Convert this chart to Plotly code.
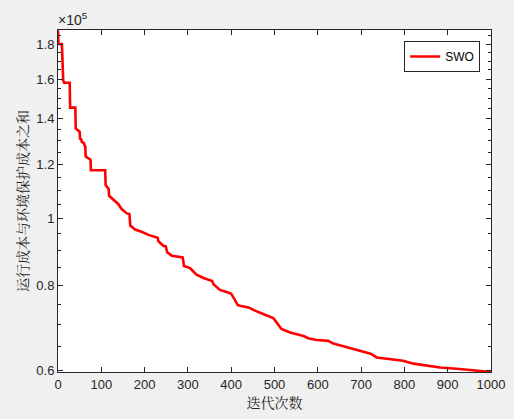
import plotly.graph_objects as go
import math

# iteration breakpoints and best objective values (in units of 1e5)
iterations = [0, 1, 9, 10, 11, 12, 14, 27, 28, 40, 41, 46, 50, 51, 54, 55, 60, 61, 63, 64,
              70, 75, 76, 109, 110, 114, 117, 118, 128, 139, 147, 159, 165, 167, 178, 193,
              209, 224, 230, 232, 243, 249, 252, 263, 282, 288, 291, 305, 312, 320, 336,
              351, 356, 359, 374, 393, 400, 415, 420, 440, 455, 478, 497, 500, 516, 536,
              567, 578, 597, 624, 636, 659, 690, 717, 722, 736, 767, 797, 821, 852, 882,
              928, 959, 1000]
values_e5 = [1.885, 1.80, 1.80, 1.717, 1.717, 1.594, 1.58, 1.58, 1.453, 1.453, 1.354,
             1.345, 1.34, 1.309, 1.305, 1.295, 1.29, 1.28, 1.275, 1.233, 1.224, 1.22,
             1.177, 1.177, 1.12, 1.111, 1.105, 1.08, 1.065, 1.051, 1.033, 1.018, 1.016,
             0.977, 0.964, 0.957, 0.947, 0.941, 0.938, 0.927, 0.913, 0.911, 0.893, 0.883,
             0.880, 0.878, 0.853, 0.847, 0.838, 0.828, 0.819, 0.813, 0.811, 0.802, 0.787,
             0.780, 0.777, 0.748, 0.746, 0.742, 0.734, 0.724, 0.716, 0.712, 0.690, 0.682,
             0.674, 0.669, 0.665, 0.663, 0.657, 0.651, 0.643, 0.637, 0.635, 0.627, 0.624,
             0.620, 0.614, 0.610, 0.606, 0.603, 0.600, 0.597]
values = [v * 1e5 for v in values_e5]

series_name = "SWO"
x_ticks = [0, 100, 200, 300, 400, 500, 600, 700, 800, 900, 1000]
y_tick_vals = [60000, 80000, 100000, 120000, 140000, 160000, 180000]
y_tick_text = ["0.6", "0.8", "1", "1.2", "1.4", "1.6", "1.8"]
y_minor_vals = [65000, 70000, 75000, 85000, 90000, 95000, 105000, 110000, 115000,
                125000, 130000, 135000, 145000, 150000, 155000, 165000, 170000, 175000,
                185000]
x_title = "迭代次数"
y_title = "运行成本与环境保护成本之和"

axis_color = "#262626"
tick_font = dict(family="Liberation Sans, Arial", size=13, color=axis_color)
cjk_font = dict(family="Noto Serif CJK SC, Noto Sans CJK SC", size=14, color=axis_color)

fig = go.Figure()
fig.add_trace(go.Scatter(
    x=iterations, y=values, mode="lines", name=series_name,
    line=dict(color="#ff0000", width=2.6),
))

fig.update_layout(
    width=514, height=419,
    margin=dict(l=58, r=23, t=30, b=47),
    paper_bgcolor="#f0f0f0", plot_bgcolor="#ffffff",
    showlegend=True,
    legend=dict(x=0.975, y=0.968, xanchor="right", yanchor="top",
                bgcolor="#ffffff", bordercolor="#262626", borderwidth=1,
                font=dict(family="Liberation Sans, Arial", size=12, color="#000000"),
                itemwidth=30, tracegroupgap=0),
    annotations=[dict(text="×10<sup>5</sup>", x=0, y=1, xref="paper", yref="paper",
                      xanchor="left", yanchor="bottom", showarrow=False,
                      font=dict(family="Liberation Sans, Arial", size=14, color=axis_color),
                      xshift=-2, yshift=0)],
)

fig.update_xaxes(
    range=[0, 1000], tickvals=x_ticks, ticks="inside", ticklen=5, tickcolor=axis_color,
    showline=True, linecolor=axis_color, linewidth=1, mirror="ticks",
    showgrid=False, zeroline=False, tickfont=tick_font, automargin=False,
    title=dict(text=x_title, font=cjk_font, standoff=4),
)
fig.update_yaxes(
    type="log", range=[math.log10(59700), math.log10(188700)],
    tickvals=y_tick_vals, ticktext=y_tick_text,
    ticks="inside", ticklen=5, tickcolor=axis_color,
    minor=dict(tickvals=y_minor_vals, ticks="inside", ticklen=3, tickcolor=axis_color,
               showgrid=False),
    showline=True, linecolor=axis_color, linewidth=1, mirror="ticks",
    showgrid=False, zeroline=False, tickfont=tick_font, automargin=False,
    title=dict(text=y_title, font=cjk_font, standoff=4),
)

fig.write_html(
    "out.html",
    config={"displayModeBar": False},
    post_script="document.body.style.margin='0';document.body.style.backgroundColor='#f0f0f0';",
)
